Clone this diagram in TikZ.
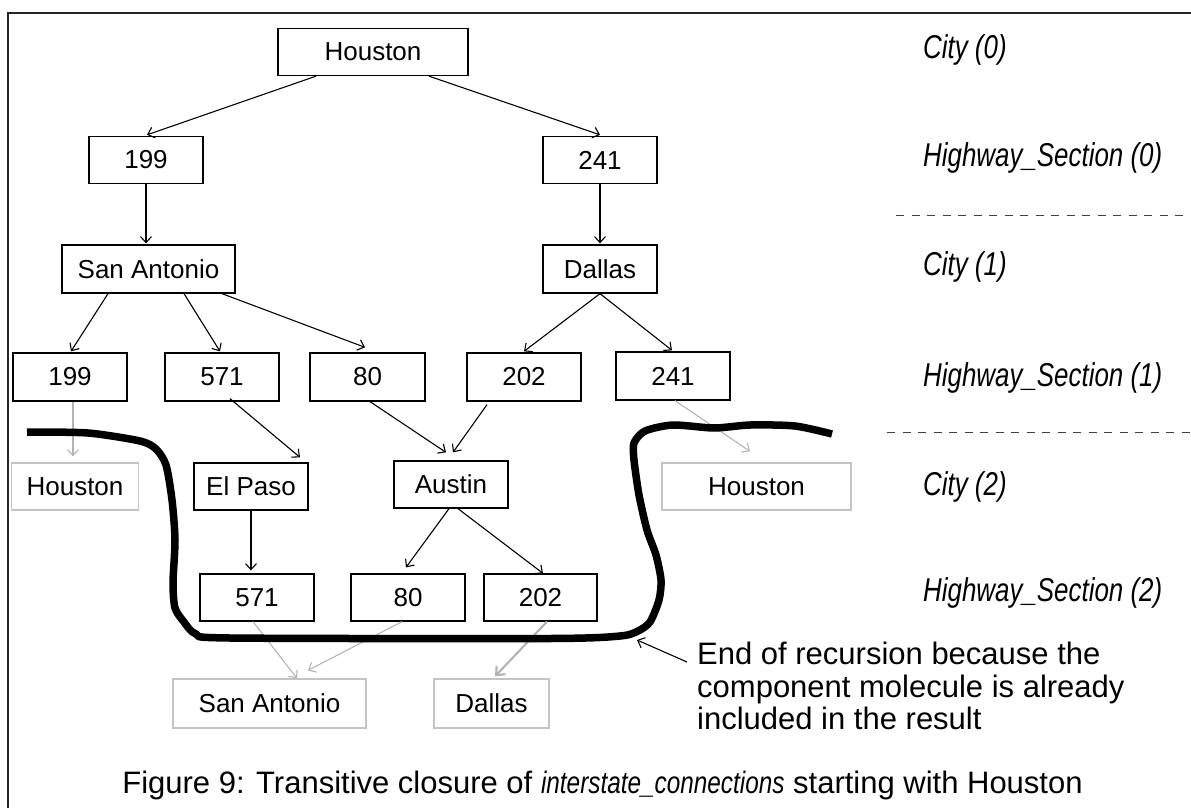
\documentclass[tikz,border=0pt]{standalone}
\usepackage{fontspec}
\setmainfont{Liberation Sans}
\newfontfamily\lblfont{Liberation Sans}[FakeStretch=0.785]
\usetikzlibrary{arrows.meta}

\definecolor{faint}{HTML}{B4B4B4}
\definecolor{faintbox}{HTML}{C4C4C4}

\tikzset{
  box/.style={draw=black, line width=1.3pt, inner sep=0pt, font=\fontsize{26}{30}\selectfont,
              minimum height=47pt},
  oldbox/.style={box, draw=faintbox},
  link/.style={line width=1.1pt, -{Straight Barb[length=6pt,width=11pt,line width=1.1pt]}},
  oldlink/.style={link, draw=faint},
  level/.style={anchor=west, inner sep=0pt, font=\lblfont\itshape\fontsize{33}{36}\selectfont},
  divider/.style={line width=1pt, draw=black!75, dash pattern=on 8pt off 7.5pt},
  cutline/.style={line width=7.5pt, line join=round},
}

\begin{document}
\begin{tikzpicture}[x=1pt, y=-1pt]
\useasboundingbox (0,0) rectangle (1191,808);

% outer frame
\draw[line width=1.3pt, black!85] (8,808) -- (8,13) -- (1191,13);

% level 0
\node[box, minimum width=190pt] (hou0)   at (373,52)    {Houston};
\node[box, minimum width=114pt] (hw199a) at (146,160)   {199};
\node[box, minimum width=114pt] (hw241a) at (600,160)   {241};
% level 1
\node[box, minimum width=173pt, minimum height=48pt] (sa1) at (148.5,269) {San Antonio};
\node[box, minimum width=114pt, minimum height=48pt] (da1) at (600,269)   {Dallas};
\node[box, minimum width=114pt, minimum height=48pt] (hw199b) at (70,377)    {199};
\node[box, minimum width=114pt, minimum height=48pt] (hw571b) at (222,377)   {571};
\node[box, minimum width=115pt, minimum height=48pt] (hw80b)  at (367.5,377) {80};
\node[box, minimum width=114pt, minimum height=48pt] (hw202b) at (524,377)   {202};
\node[box, minimum width=114pt, minimum height=48pt] (hw241b) at (673,376) {241};
% level 2
\node[oldbox, minimum width=127pt] (houL)   at (75,486.5)  {Houston};
\node[box,    minimum width=114pt] (elpaso) at (251,486.5) {El Paso};
\node[box,    minimum width=114pt] (austin) at (451,484.5) {Austin};
\node[oldbox, minimum width=189pt] (houR)   at (756.5,486.5) {Houston};
\node[box, minimum width=114pt] (hw571c) at (257,597.5)   {571};
\node[box, minimum width=114pt] (hw80c)  at (408,597.5)   {80};
\node[box, minimum width=113pt] (hw202c) at (540.5,597.5) {202};
% already visited
\node[oldbox, minimum width=193pt, minimum height=49pt] (saG) at (269.5,703.5) {San Antonio};
\node[oldbox, minimum width=115pt, minimum height=49pt] (daG) at (491.5,703.5) {Dallas};

% connectors
\draw[link] ([xshift=-57pt]hou0.south) -- ([xshift=1pt,yshift=1pt]hw199a.north);
\draw[link] ([xshift=56pt]hou0.south) -- ([yshift=1pt]hw241a.north);
\draw[link] (hw199a.south) -- ([yshift=1pt]sa1.north -| hw199a.south);
\draw[link] (hw241a.south) -- ([yshift=1pt]da1.north);
\draw[link] ([xshift=-40.5pt]sa1.south) -- ([xshift=1pt,yshift=1pt]hw199b.north);
\draw[link] ([xshift=35.5pt]sa1.south) -- ([xshift=-2pt,yshift=1pt]hw571b.north);
\draw[link] ([xshift=73.5pt]sa1.south) -- ([xshift=-2.5pt,yshift=5pt]hw80b.north);
\draw[link] (da1.south) -- ([yshift=1pt]hw202b.north);
\draw[link] (da1.south) -- ([xshift=-1pt,yshift=1pt]hw241b.north);
\draw[link] ([xshift=8pt,yshift=3pt]hw571b.south) -- ([xshift=49pt,yshift=5pt]elpaso.north);
\draw[link] ([xshift=2.5pt]hw80b.south) -- ([xshift=-5pt,yshift=8pt]austin.north);
\draw[link] ([xshift=-37pt,yshift=-3pt]hw202b.south) -- ([xshift=2pt,yshift=8pt]austin.north);
\draw[link] (elpaso.south) -- ([yshift=3pt]hw571c.north -| elpaso.south);
\draw[link] ([xshift=-2pt]austin.south) -- ([xshift=-2pt,yshift=6pt]hw80c.north);
\draw[link] ([xshift=7pt]austin.south) -- ([xshift=2.5pt]hw202c.north);
\draw[oldlink] ([xshift=3pt]hw199b.south) -- ([xshift=-2pt,yshift=6pt]houL.north);
\draw[oldlink] ([xshift=2pt]hw241b.south) -- ([xshift=-6.5pt,yshift=11pt]houR.north);
\draw[oldlink] ([xshift=-4pt]hw571c.south) -- ([xshift=27.5pt]saG.north);
\draw[oldlink] ([xshift=-6pt]hw80c.south) -- ([xshift=38.5pt,yshift=8pt]saG.north);
\draw[oldlink, line width=2.2pt, -{Straight Barb[length=7pt,width=12pt,line width=2.2pt]}]
  ([xshift=6.5pt]hw202c.south) -- ([xshift=3.5pt,yshift=2pt]daG.north);

% boundary where the recursion stops
\draw[cutline] plot[smooth, tension=0.45] coordinates {
  (27,432) (88,433) (140,441) (156,449) (166,465) (172,500) (175,540) (173,583)
  (175,608) (184,622) (196,634) (230,638) (550,638.5) (620,636) (638,631) (650,622)
  (659,600) (661,580) (656,555) (647,530) (639,495) (634,460) (634,443) (645,431)
  (673,425) (714,428) (750,425) (795,426) (832,434)};

% level labels and dividers
\node[level] (l0) at (923,50)  {City (0)};
\node[level] (l1) at (923,158) {Highway\_Section (0)};
\node[level] (l2) at (923,267) {City (1)};
\node[level] (l3) at (923,378) {Highway\_Section (1)};
\node[level] (l4) at (923,487) {City (2)};
\node[level] (l5) at (923,593) {Highway\_Section (2)};
\draw[divider] (896,215) -- (1191,215);
\draw[divider] (887,432) -- (1191,432);

% annotation
\node[anchor=north west, inner sep=0pt, align=left, font=\fontsize{31}{32.5}\selectfont]
  (note) at (697,642) {End of recursion because the\\component molecule is already\\included in the result};
\coordinate (notetail) at (687,662);
\coordinate (notetip) at (637,640);
\draw[line width=1.1pt, -{Straight Barb[length=6pt,width=11pt,line width=1.1pt]}] (notetail) -- (notetip);

% caption
\node[anchor=base, inner sep=0pt, font=\fontsize{31}{34}\selectfont] (caption) at (602.5,793)
  {Figure 9: Transitive closure of {\lblfont\itshape interstate\_connections} starting with Houston};
\end{tikzpicture}
\end{document}
